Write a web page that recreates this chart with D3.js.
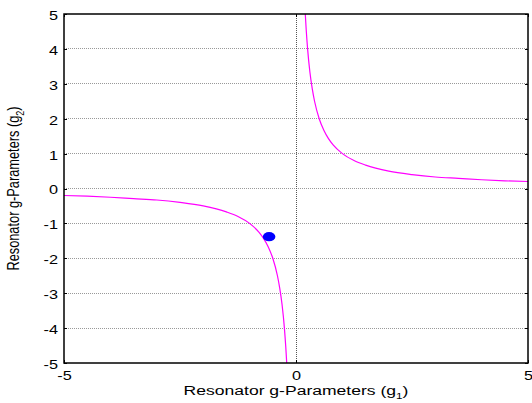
<!DOCTYPE html>
<html>
<head>
<meta charset="utf-8">
<script src="https://cdn.jsdelivr.net/npm/d3@7"></script>
<style>
  html, body { margin: 0; padding: 0; background: #fff; }
  svg { display: block; font-family: "Liberation Sans", Arial, sans-serif; }
</style>
</head>
<body>
<svg id="chart" width="532" height="403"></svg>
<script>
// Stability curve g1·g2 = 1, sampled along each branch
const rightG1 = [0.2, 0.22, 0.25, 0.3, 0.35, 0.4, 0.5, 0.6, 0.7, 0.8, 1.0, 1.25, 1.5, 2.0, 2.5, 3.0, 3.5, 4.0, 4.5, 5.0];
const rightG2 = [5.0, 4.55, 4.0, 3.33, 2.86, 2.5, 2.0, 1.67, 1.43, 1.25, 1.0, 0.8, 0.67, 0.5, 0.4, 0.33, 0.29, 0.25, 0.22, 0.2];
const leftG1 = [-5.0, -4.5, -4.0, -3.5, -3.0, -2.5, -2.0, -1.5, -1.25, -1.0, -0.8, -0.7, -0.6, -0.5, -0.4, -0.35, -0.3, -0.25, -0.22, -0.2];
const leftG2 = [-0.2, -0.22, -0.25, -0.29, -0.33, -0.4, -0.5, -0.67, -0.8, -1.0, -1.25, -1.43, -1.67, -2.0, -2.5, -2.86, -3.33, -4.0, -4.55, -5.0];

// Operating point of the resonator
const pointG1 = [-0.58];
const pointG2 = [-1.38];

const xTicks = [-5, 0, 5];
const yTicks = [-5, -4, -3, -2, -1, 0, 1, 2, 3, 4, 5];

const margin = { left: 64, right: 4, top: 14, bottom: 40 };
const width = 532, height = 403;
const stretch = 1.25; // glyphs are drawn slightly wide

const svg = d3.select("#chart");
const x = d3.scaleLinear().domain([-5, 5]).range([margin.left, width - margin.right]);
const y = d3.scaleLinear().domain([-5, 5]).range([height - margin.bottom, margin.top]);

// Dotted grid: horizontal at every y tick, vertical at the inner x tick
const grid = svg.append("g");
grid.selectAll("line.h").data(yTicks.filter(d => d > -5 && d < 5)).join("line")
  .attr("x1", x(-5)).attr("x2", x(5))
  .attr("y1", d => y(d)).attr("y2", d => y(d))
  .attr("stroke", "#999").attr("stroke-width", 1)
  .attr("stroke-dasharray", "1,1").attr("shape-rendering", "crispEdges");
grid.selectAll("line.v").data(xTicks.filter(d => d > -5 && d < 5)).join("line")
  .attr("x1", d => x(d)).attr("x2", d => x(d))
  .attr("y1", y(-5)).attr("y2", y(5))
  .attr("stroke", "#555").attr("stroke-width", 1)
  .attr("stroke-dasharray", "1,1").attr("shape-rendering", "crispEdges");

// Curve branches
const line = d3.line().x(d => x(d[0])).y(d => y(d[1])).curve(d3.curveMonotoneX);
const branches = [
  d3.zip(rightG1, rightG2),
  d3.zip(leftG1, leftG2)
];
svg.append("g").selectAll("path").data(branches).join("path")
  .attr("d", line)
  .attr("fill", "none")
  .attr("stroke", "#ff00ff")
  .attr("stroke-width", 1.2);

// Operating point marker
svg.append("g").selectAll("ellipse").data(d3.zip(pointG1, pointG2)).join("ellipse")
  .attr("cx", d => x(d[0])).attr("cy", d => y(d[1]))
  .attr("rx", 6.3).attr("ry", 4.6)
  .attr("fill", "#0000ff");

// Axes
const fmt = d => String(d);
const axisLeft = d3.axisLeft(y).tickValues(yTicks).tickSize(-3).tickFormat(fmt);
const axisRight = d3.axisRight(y).tickValues(yTicks).tickSize(-3).tickFormat("");
const axisBottom = d3.axisBottom(x).tickValues(xTicks).tickSize(-3).tickFormat(fmt);
const axisTop = d3.axisTop(x).tickValues(xTicks).tickSize(-3).tickFormat("");

function style(g) {
  g.select(".domain").remove();
  g.selectAll(".tick line").attr("stroke", "#000").attr("shape-rendering", "crispEdges");
  g.selectAll(".tick text").attr("font-size", 13).attr("fill", "#000")
    .attr("font-family", "'Liberation Sans', Arial, sans-serif");
}
svg.append("g").attr("transform", `translate(${x(-5)},0)`).call(axisLeft).call(style)
  .selectAll(".tick text")
  .attr("x", null).attr("dy", "0.42em")
  .attr("transform", `translate(-6,0) scale(${stretch},1)`);
svg.append("g").attr("transform", `translate(${x(5)},0)`).call(axisRight).call(style);
svg.append("g").attr("transform", `translate(0,${y(-5)})`).call(axisBottom).call(style)
  .selectAll(".tick text")
  .attr("y", null).attr("dy", null)
  .attr("transform", `translate(0,17) scale(${stretch},1)`);
svg.append("g").attr("transform", `translate(0,${y(5)})`).call(axisTop).call(style);

// Frame
svg.append("rect")
  .attr("x", x(-5)).attr("y", y(5))
  .attr("width", x(5) - x(-5)).attr("height", y(-5) - y(5))
  .attr("fill", "none").attr("stroke", "#000").attr("stroke-width", 1.5);

// Axis titles with subscripts
const xt = svg.append("text")
  .attr("transform", `translate(${x(0)},395) scale(1.3,1)`)
  .attr("text-anchor", "middle").attr("font-size", 13.5).attr("fill", "#000");
xt.append("tspan").text("Resonator g-Parameters (g");
xt.append("tspan").attr("font-size", 9).attr("dy", 4).text("1");
xt.append("tspan").attr("dy", -4).text(")");

const yt = svg.append("text")
  .attr("transform", `translate(19,${y(0)}) scale(1.3,1) rotate(-90)`)
  .attr("text-anchor", "middle").attr("font-size", 12.8).attr("fill", "#000");
yt.append("tspan").text("Resonator g-Parameters (g");
yt.append("tspan").attr("font-size", 9).attr("dy", 4).text("2");
yt.append("tspan").attr("dy", -4).text(")");
</script>
</body>
</html>
